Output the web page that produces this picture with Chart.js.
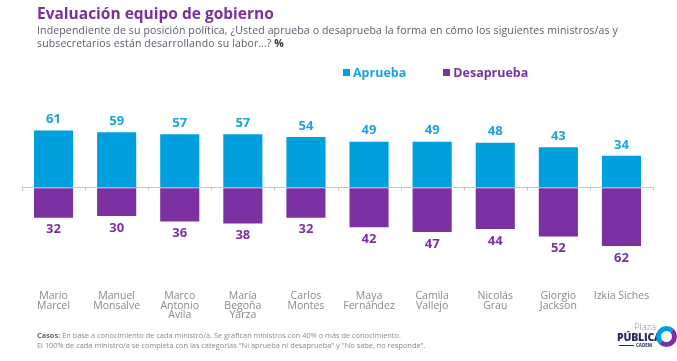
<!DOCTYPE html>
<html><head><meta charset="utf-8">
<script src="https://cdn.jsdelivr.net/npm/chart.js@4/dist/chart.umd.min.js"></script>
<style>
html,body{margin:0;padding:0;background:#fff;}
#wrap{position:relative;width:677px;height:361px;overflow:hidden;font-family:"Open Sans",sans-serif;}
#c{position:absolute;left:0;top:0;}
.t{position:absolute;white-space:nowrap;}
#title{left:37px;top:2px;font-size:15.5px;font-weight:700;color:#7B2F9E;}
#sub{left:37px;top:24px;font-size:10.5px;line-height:13px;color:#5b5b6b;letter-spacing:0.15px;}
#leg{left:343px;top:64px;font-size:12.5px;font-weight:700;}
#leg span.sq{display:inline-block;width:7px;height:7px;margin-right:3px;vertical-align:1px;}
#foot{left:37px;top:331px;font-size:7.4px;line-height:9.5px;color:#8a8a8a;}
#logo1{left:634px;top:320px;font-size:9.5px;color:#8a93a8;font-weight:300;}
#logo2{left:617px;top:330px;font-size:10.5px;color:#27285c;font-weight:800;letter-spacing:-0.2px;}
#logo3{left:636px;top:342px;font-size:4.5px;color:#27285c;font-weight:700;}
#logoline{position:absolute;left:619px;top:345px;width:15px;height:1px;background:#27285c;}
#circ{position:absolute;left:656px;top:326px;width:11px;height:11px;border-radius:50%;border:5px solid #00A0DF;border-right-color:#7B31A1;border-bottom-color:#7B31A1;}
</style></head>
<body><div id="wrap">
<canvas id="c" width="677" height="361"></canvas>
<div class="t" id="title">Evaluación equipo de gobierno</div>
<div class="t" id="sub">Independiente de su posición política, ¿Usted aprueba o desaprueba la forma en cómo los siguientes ministros/as y<br>subsecretarios están desarrollando su labor…? <b style="color:#333">%</b></div>
<div class="t" id="leg"><span class="sq" style="background:#00A0DF"></span><span style="color:#1BA3E0">Aprueba</span><span style="display:inline-block;width:37px"></span><span class="sq" style="background:#7B31A1"></span><span style="color:#7B31A1">Desaprueba</span></div>
<div class="t" id="foot"><b style="color:#666">Casos:</b> En base a conocimiento de cada ministro/a. Se grafican ministros con 40% o más de conocimiento.<br>El 100% de cada ministro/a se completa con las categorías "Ni aprueba ni desaprueba" y "No sabe, no responde".</div>
<div class="t" id="logo1">Plaza</div>
<div class="t" id="logo2">PÚBLICA</div>
<div id="logoline"></div>
<div class="t" id="logo3">CADEM</div>
<div id="circ"></div>
</div>
<script>
const categories = [["Mario","Marcel"],["Manuel","Monsalve"],["Marco","Antonio","Ávila"],["María","Begoña","Yarza"],["Carlos","Montes"],["Maya","Fernández"],["Camila","Vallejo"],["Nicolás","Grau"],["Giorgio","Jackson"],["Izkia Siches"]];
const aprueba = [61,59,57,57,54,49,49,48,43,34];
const desaprueba = [32,30,36,38,32,42,47,44,52,62];
const seriesNames = ["Aprueba","Desaprueba"];
const BLUE = "#00A0DF", PURPLE = "#7B31A1";

const valueLabels = {
  id:"valueLabels",
  afterDatasetsDraw(chart){
    const ctx = chart.ctx;
    ctx.save();
    ctx.font = "700 13px 'Open Sans'";
    ctx.textAlign = "center";
    ctx.textBaseline = "middle";
    chart.data.datasets.forEach((ds,di)=>{
      const meta = chart.getDatasetMeta(di);
      meta.data.forEach((bar,i)=>{
        const raw = di===0 ? aprueba[i] : desaprueba[i];
        ctx.fillStyle = di===0 ? "#1BA3E0" : PURPLE;
        const y = di===0 ? bar.y - 11 : bar.y + 12;
        ctx.fillText(String(raw), bar.x, y);
      });
    });
    ctx.restore();
  }
};
const catTicks = {
  id:"catTicks",
  afterDraw(chart){
    const x = chart.scales.x, y = chart.scales.y, ctx = chart.ctx;
    const y0 = y.getPixelForValue(0);
    ctx.save();
    ctx.strokeStyle = "#c8c8c8"; ctx.lineWidth = 1;
    for(let i=0;i<=categories.length;i++){
      const px = Math.round(x.getPixelForValue(i-0.5))+0.5;
      ctx.beginPath(); ctx.moveTo(px,y0-1); ctx.lineTo(px,y0+3); ctx.stroke();
    }
    ctx.restore();
  }
};

new Chart(document.getElementById("c"),{
  type:"bar",
  data:{
    labels:categories,
    datasets:[
      {label:seriesNames[0],data:aprueba,backgroundColor:BLUE},
      {label:seriesNames[1],data:desaprueba.map(v=>-v),backgroundColor:PURPLE}
    ]
  },
  options:{
    responsive:false,animation:false,
    layout:{padding:{left:22,right:24,top:122,bottom:31}},
    plugins:{legend:{display:false},tooltip:{enabled:false}},
    datasets:{bar:{barPercentage:0.62,categoryPercentage:1}},
    scales:{
      x:{stacked:true,border:{display:false},grid:{display:false,drawTicks:false},
         ticks:{padding:10,color:"#8a8a8a",font:{family:"'Open Sans'",size:10.5,lineHeight:0.9},maxRotation:0,autoSkip:false}},
      y:{stacked:true,min:-100,max:70,border:{display:false},
         ticks:{display:false,stepSize:10},
         grid:{drawTicks:false,color:c=>c.tick.value===0?"#c8c8c8":"transparent"}}
    }
  },
  plugins:[valueLabels,catTicks]
});
</script>
</body></html>
